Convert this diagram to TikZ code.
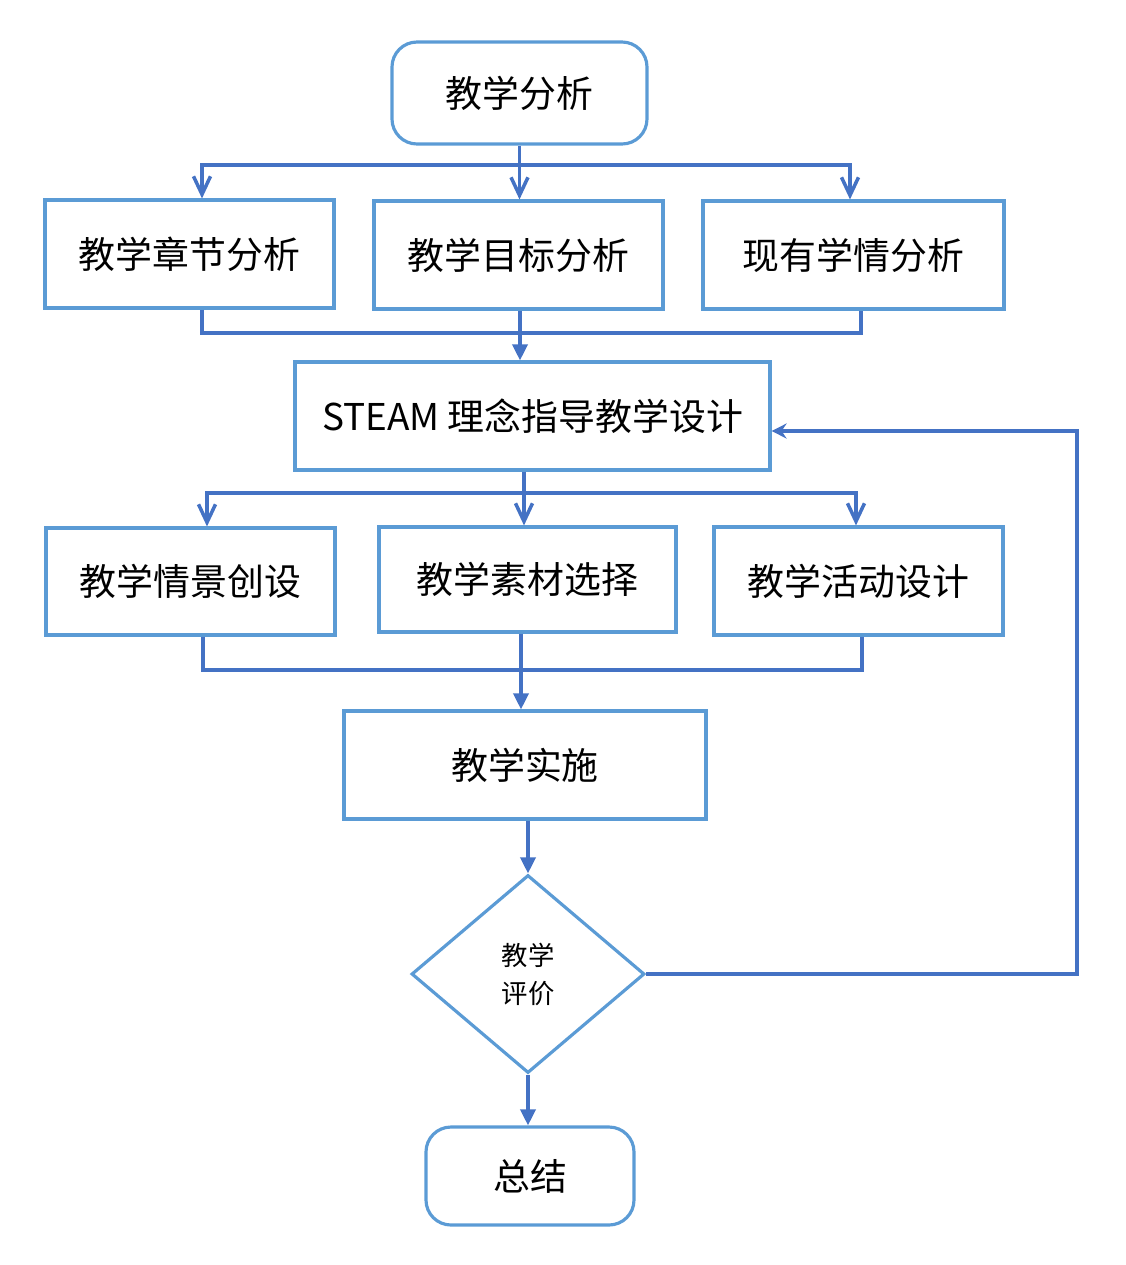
\documentclass[tikz,border=0pt]{standalone}
\usepackage{fontspec}
\setmainfont{Noto Sans CJK SC}
\usepackage{tikz}
\usetikzlibrary{arrows.meta,shapes.geometric,positioning,calc}
\definecolor{boxcolor}{RGB}{91,155,213}
\definecolor{linecolor}{RGB}{68,114,196}

\begin{document}
\begin{tikzpicture}[
    box/.style={rectangle, draw=boxcolor, line width=1.8pt, minimum width=5.78cm, minimum height=2.16cm, inner sep=0pt, font=\fontsize{21}{25}\selectfont},
    roundbox/.style={box, rounded corners=0.5cm},
    decision/.style={diamond, draw=boxcolor, line width=1.8pt, minimum width=4.66cm, minimum height=3.96cm, inner sep=0pt, align=center, font=\fontsize{15}{21.6}\selectfont},
    line/.style={draw=linecolor, line width=2pt},
    openarrow/.style={line, -{Straight Barb[length=3.6mm, width=3.4mm]}},
    arrow/.style={line, -{Triangle[length=3.2mm, width=3mm]}},
    fbarrow/.style={line, -{Stealth[length=3mm, width=3mm, inset=1mm]}}
]
    \useasboundingbox (0,0) rectangle (22.52,-25.3);

    % Analysis
    \node[roundbox, minimum width=5.1cm, minimum height=2.04cm] (fenxi) at (10.39,-1.86) {教学分析};
    \node[box] (zhangjie) at (3.79,-5.08) {教学章节分析};
    \node[box] (mubiao) at (10.37,-5.10) {教学目标分析};
    \node[box, minimum width=6.02cm] (xueqing) at (17.07,-5.10) {现有学情分析};

    % Design
    \node[box, minimum width=9.5cm] (steam) at (10.65,-8.32) {STEAM 理念指导教学设计};
    \node[box, minimum height=2.14cm] (qingjing) at (3.81,-11.63) {教学情景创设};
    \node[box, minimum width=5.94cm, minimum height=2.1cm] (sucai) at (10.55,-11.59) {教学素材选择};
    \node[box] (huodong) at (17.17,-11.62) {教学活动设计};

    % Implementation and evaluation
    \node[box, minimum width=7.24cm] (shishi) at (10.5,-15.3) {教学实施};
    \node[decision] (pingjia) at (10.56,-19.48) {教学\\评价};
    \node[roundbox, minimum width=4.16cm, minimum height=1.96cm] (zongjie) at (10.6,-23.52) {总结};

    % Branch points
    \coordinate (split1) at (10.39,-3.3);
    \coordinate (merge1) at (10.4,-6.66);
    \coordinate (split2) at (10.48,-9.86);
    \coordinate (merge2) at (10.42,-13.4);
    \coordinate (loop) at (21.54,-8.62);

    % Arrows
    \draw[openarrow] (fenxi.south) -- (fenxi.south |- mubiao.north);
    \draw[openarrow] (split1) -| ([xshift=0.25cm]zhangjie.north);
    \draw[openarrow] (split1) -| ([xshift=-0.07cm]xueqing.north);

    \draw[line] ([xshift=0.25cm]zhangjie.south) |- (merge1) -| ([xshift=0.15cm]xueqing.south);
    \draw[arrow] (merge1 |- mubiao.south) -- (merge1 |- steam.north);

    \draw[openarrow] (split2 |- steam.south) -- (split2 |- sucai.north);
    \draw[openarrow] (split2) -| ([xshift=0.33cm]qingjing.north);
    \draw[openarrow] (split2) -| ([xshift=-0.05cm]huodong.north);

    \draw[line] ([xshift=0.25cm]qingjing.south) |- (merge2) -| ([xshift=0.07cm]huodong.south);
    \draw[arrow] (merge2 |- sucai.south) -- (merge2 |- shishi.north);

    \draw[arrow] (pingjia.north |- shishi.south) -- (pingjia.north);
    \draw[arrow] (pingjia.south) -- (pingjia.south |- zongjie.north);
    \draw[fbarrow] (pingjia.east) -| (loop) -- (loop -| steam.east);
\end{tikzpicture}
\end{document}
